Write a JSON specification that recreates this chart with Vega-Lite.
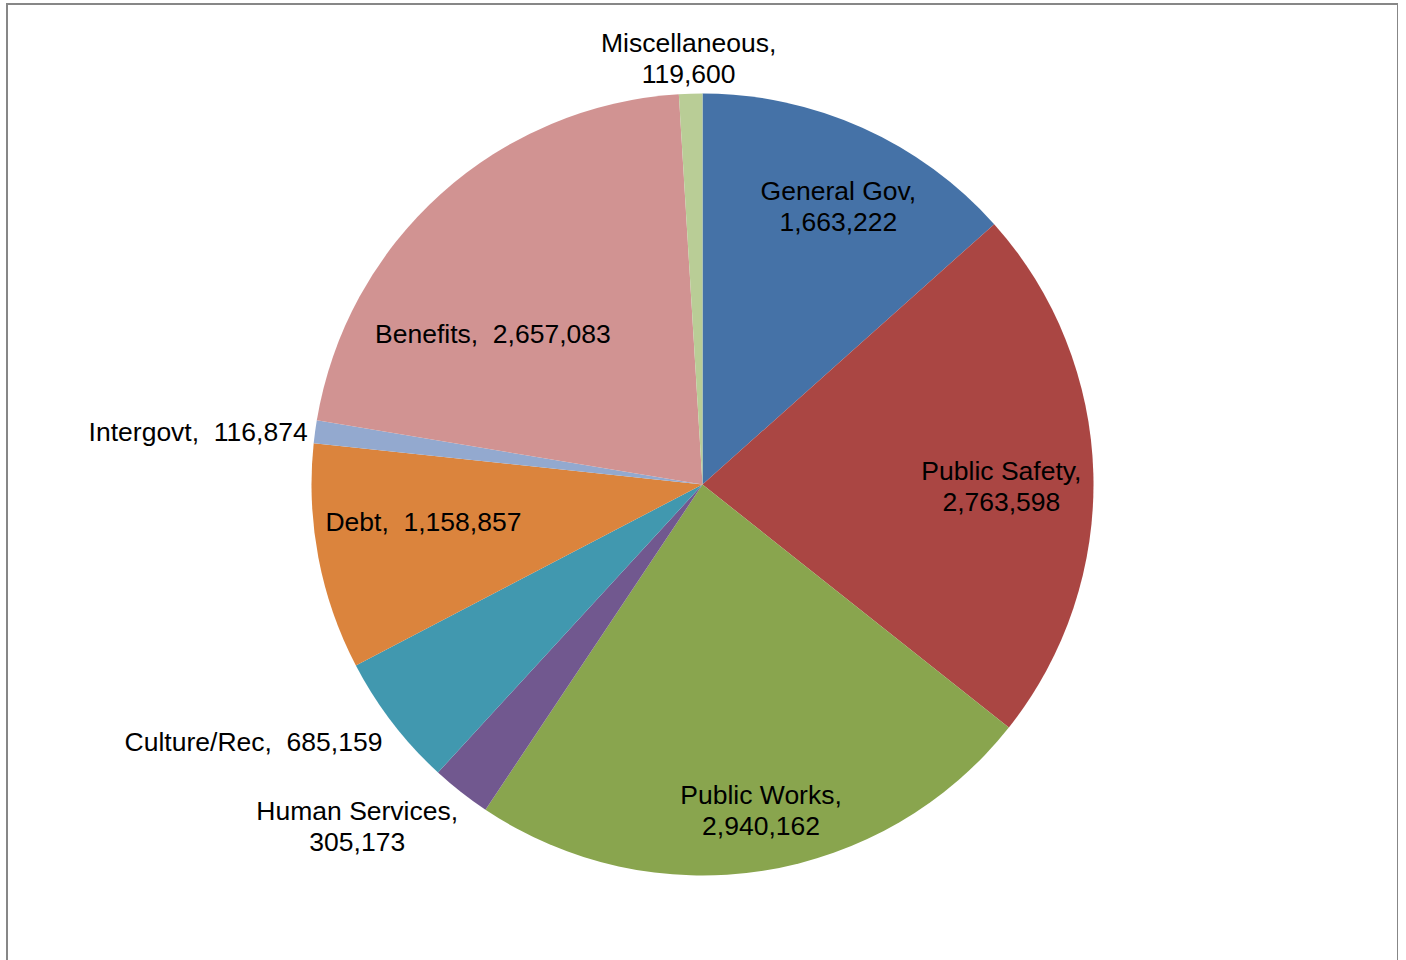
{
  "$schema": "https://vega.github.io/schema/vega-lite/v6.json",
  "width": 1391,
  "height": 961,
  "autosize": {"type": "none"},
  "padding": {"left": 7, "top": 4, "right": 0, "bottom": 0},
  "background": "white",
  "view": {"stroke": "#878787", "strokeWidth": 2, "fill": "white"},
  "config": {
    "view": {"stroke": "#878787", "strokeWidth": 2},
    "text": {"font": "Liberation Sans", "fontSize": 26.5, "lineBreak": "\n", "lineHeight": 31, "color": "#000000", "align": "center", "baseline": "middle"}
  },
  "data": {
    "values": [
      {"order": 1, "category": "General Gov", "amount": 1663222, "label": "General Gov,\n1,663,222"},
      {"order": 2, "category": "Public Safety", "amount": 2763598, "label": "Public Safety,\n2,763,598"},
      {"order": 3, "category": "Public Works", "amount": 2940162, "label": "Public Works,\n2,940,162"},
      {"order": 4, "category": "Human Services", "amount": 305173, "label": "Human Services,\n305,173"},
      {"order": 5, "category": "Culture/Rec", "amount": 685159, "label": "Culture/Rec,\u00a0 685,159"},
      {"order": 6, "category": "Debt", "amount": 1158857, "label": "Debt,\u00a0 1,158,857"},
      {"order": 7, "category": "Intergovt", "amount": 116874, "label": "Intergovt,\u00a0 116,874"},
      {"order": 8, "category": "Benefits", "amount": 2657083, "label": "Benefits,\u00a0 2,657,083"},
      {"order": 9, "category": "Miscellaneous", "amount": 119600, "label": "Miscellaneous,\n119,600"}
    ]
  },
  "encoding": {
    "theta": {"field": "amount", "type": "quantitative", "stack": true},
    "order": {"field": "order", "type": "quantitative"},
    "detail": {"field": "category", "type": "nominal"}
  },
  "layer": [
    {
      "mark": {"type": "arc", "outerRadius": 391},
      "encoding": {
        "color": {
          "field": "category",
          "type": "nominal",
          "legend": null,
          "scale": {
            "domain": ["General Gov", "Public Safety", "Public Works", "Human Services", "Culture/Rec", "Debt", "Intergovt", "Benefits", "Miscellaneous"],
            "range": ["#4572A7", "#AA4643", "#89A54E", "#71588F", "#4198AF", "#DB843D", "#93A9CF", "#D19392", "#B9CD96"]
          }
        }
      }
    },
    {
      "mark": {"type": "text", "radius": 308, "dx": 10, "dy": -11.5},
      "encoding": {"text": {"condition": {"test": "datum.category === 'General Gov'", "field": "label", "type": "nominal"}, "value": ""}}
    },
    {
      "mark": {"type": "text", "radius": 299, "dx": 0, "dy": -3.5},
      "encoding": {"text": {"condition": {"test": "datum.category === 'Public Safety'", "field": "label", "type": "nominal"}, "value": ""}}
    },
    {
      "mark": {"type": "text", "radius": 332, "dx": 7, "dy": -16.5},
      "encoding": {"text": {"condition": {"test": "datum.category === 'Public Works'", "field": "label", "type": "nominal"}, "value": ""}}
    },
    {
      "mark": {"type": "text", "radius": 483, "dx": -47, "dy": -52.5},
      "encoding": {"text": {"condition": {"test": "datum.category === 'Human Services'", "field": "label", "type": "nominal"}, "value": ""}}
    },
    {
      "mark": {"type": "text", "radius": 513, "dx": -42, "dy": -54},
      "encoding": {"text": {"condition": {"test": "datum.category === 'Culture/Rec'", "field": "label", "type": "nominal"}, "value": ""}}
    },
    {
      "mark": {"type": "text", "radius": 281, "dx": -3, "dy": -14},
      "encoding": {"text": {"condition": {"test": "datum.category === 'Debt'", "field": "label", "type": "nominal"}, "value": ""}}
    },
    {
      "mark": {"type": "text", "radius": 507, "dx": -2, "dy": 17},
      "encoding": {"text": {"condition": {"test": "datum.category === 'Intergovt'", "field": "label", "type": "nominal"}, "value": ""}}
    },
    {
      "mark": {"type": "text", "radius": 252, "dx": -41, "dy": 38},
      "encoding": {"text": {"condition": {"test": "datum.category === 'Benefits'", "field": "label", "type": "nominal"}, "value": ""}}
    },
    {
      "mark": {"type": "text", "radius": 425, "dx": -1, "dy": -15.5},
      "encoding": {"text": {"condition": {"test": "datum.category === 'Miscellaneous'", "field": "label", "type": "nominal"}, "value": ""}}
    }
  ]
}
